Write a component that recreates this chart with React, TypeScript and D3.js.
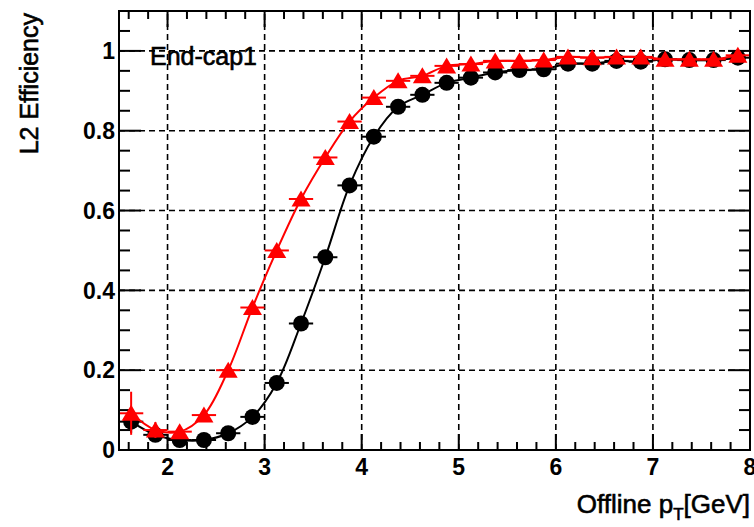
import React from 'react';
import * as d3 from 'd3';

// bin centres of offline pT [GeV]
const ptBins = [
  1.625, 1.875, 2.125, 2.375, 2.625, 2.875, 3.125, 3.375, 3.625, 3.875, 4.125, 4.375, 4.625,
  4.875, 5.125, 5.375, 5.625, 5.875, 6.125, 6.375, 6.625, 6.875, 7.125, 7.375, 7.625, 7.875,
];
const binHalfWidth = 0.125;

// black circles
const effCircle = [
  0.071, 0.038, 0.025, 0.025, 0.042, 0.083, 0.168, 0.317, 0.483, 0.663, 0.785, 0.86, 0.89,
  0.92, 0.933, 0.946, 0.952, 0.954, 0.968, 0.968, 0.975, 0.973, 0.979, 0.977, 0.977, 0.983,
];
const errCircle = [
  0.028, 0.015, 0.01, 0.01, 0.01, 0.01, 0.01, 0.01, 0.01, 0.01, 0.01, 0.01, 0.01,
  0.005, 0.005, 0.005, 0.005, 0.005, 0.005, 0.005, 0.005, 0.005, 0.005, 0.005, 0.005, 0.005,
];

// red triangles
const effTriangle = [
  0.092, 0.05, 0.046, 0.0875, 0.2, 0.357, 0.5, 0.629, 0.733, 0.823, 0.883, 0.925, 0.9375,
  0.9625, 0.967, 0.975, 0.975, 0.977, 0.985, 0.983, 0.985, 0.985, 0.979, 0.979, 0.979, 0.989,
];
const errTriangle = [
  0.054, 0.02, 0.015, 0.015, 0.01, 0.01, 0.01, 0.01, 0.01, 0.01, 0.01, 0.01, 0.01,
  0.005, 0.005, 0.005, 0.005, 0.005, 0.005, 0.005, 0.005, 0.005, 0.005, 0.005, 0.005, 0.005,
];

const xTickLabels = [2, 3, 4, 5, 6, 7, 8];
const yTickLabels = [0, 0.2, 0.4, 0.6, 0.8, 1];

const W = 754;
const H = 527;
const left = 119, right = 750, top = 11, bottom = 450;
const font = "'Liberation Sans', Arial, Helvetica, sans-serif";

const App: React.FC = () => {
  const x = d3.scaleLinear().domain([1.5, 8]).range([left, right]);
  const y = d3.scaleLinear().domain([0, 1.1]).range([bottom, top]);

  const xMinor = d3.range(16, 81, 2).map((v) => v / 10).filter((v) => v > 1.5 && v < 8);
  const yMinor = d3.range(0, 111, 5).map((v) => v / 100).filter((v) => v > 0 && v < 1.1);
  const isMajorX = (v: number) => Math.abs(v - Math.round(v)) < 1e-6;
  const isMajorY = (v: number) => Math.abs(v * 5 - Math.round(v * 5)) < 1e-6;

  const line = d3
    .line<number>()
    .x((_, i) => x(ptBins[i]))
    .y((d) => y(d))
    .curve(d3.curveCatmullRom.alpha(0.5));

  const series = [
    { vals: effCircle, errs: errCircle, color: '#000000', shape: 'circle' },
    { vals: effTriangle, errs: errTriangle, color: '#ff0000', shape: 'triangle' },
  ];

  const triPath = 'M0,-8.5L9.5,7.5L-9.5,7.5Z';

  // titles: regular face with a thin outline, heavier than regular but lighter than bold
  const titleStyle = { fill: '#000', stroke: '#000', strokeWidth: 0.6 };

  return (
    <svg
      width={W}
      height={H}
      style={{ position: 'absolute', left: 0, top: 0, background: '#fff' }}
      fontFamily={font}
    >
      <rect x={0} y={0} width={W} height={H} fill="#fff" />

      {/* grid */}
      <g stroke="#000" strokeWidth={1.6} strokeDasharray="6,4">
        {xTickLabels.filter((v) => v < 8).map((v) => (
          <line key={'gx' + v} x1={x(v)} x2={x(v)} y1={bottom} y2={top} />
        ))}
        {yTickLabels.filter((v) => v > 0).map((v) => (
          <line key={'gy' + v} x1={left} x2={right} y1={y(v)} y2={y(v)} />
        ))}
      </g>

      {/* ticks on all four sides */}
      <g stroke="#000" strokeWidth={2}>
        {xMinor.map((v) => {
          const len = isMajorX(v) ? 16 : 8;
          return (
            <g key={'tx' + v}>
              <line x1={x(v)} x2={x(v)} y1={bottom} y2={bottom - len} />
              <line x1={x(v)} x2={x(v)} y1={top} y2={top + len} />
            </g>
          );
        })}
        {yMinor.map((v) => {
          const len = isMajorY(v) ? 22 : 11;
          return (
            <g key={'ty' + v}>
              <line x1={left} x2={left + len} y1={y(v)} y2={y(v)} />
              <line x1={right} x2={right - len} y1={y(v)} y2={y(v)} />
            </g>
          );
        })}
      </g>

      {/* series */}
      {series.map((s) => (
        <g key={s.shape}>
          <path d={line(s.vals) || ''} fill="none" stroke={s.color} strokeWidth={2} />
          <g stroke={s.color} strokeWidth={2}>
            {s.vals.map((v, i) => (
              <g key={i}>
                <line
                  x1={x(ptBins[i] - binHalfWidth)}
                  x2={x(ptBins[i] + binHalfWidth)}
                  y1={y(v)}
                  y2={y(v)}
                />
                <line x1={x(ptBins[i])} x2={x(ptBins[i])} y1={y(v - s.errs[i])} y2={y(v + s.errs[i])} />
              </g>
            ))}
          </g>
          <g fill={s.color}>
            {s.vals.map((v, i) =>
              s.shape === 'circle' ? (
                <circle key={i} cx={x(ptBins[i])} cy={y(v)} r={8} />
              ) : (
                <path key={i} d={triPath} transform={`translate(${x(ptBins[i])},${y(v)})`} />
              )
            )}
          </g>
        </g>
      ))}

      {/* frame */}
      <rect
        x={left}
        y={top}
        width={right - left}
        height={bottom - top}
        fill="none"
        stroke="#000"
        strokeWidth={2}
      />

      {/* tick labels */}
      <g fontSize={23} fontWeight="bold" fill="#000">
        {xTickLabels.map((v) => (
          <text key={'lx' + v} x={x(v)} y={475} textAnchor="middle">
            {v}
          </text>
        ))}
        {yTickLabels.map((v) => (
          <text key={'ly' + v} x={115} y={y(v)} dy="0.36em" textAnchor="end">
            {v}
          </text>
        ))}
      </g>

      {/* axis titles */}
      <text x={750} y={513} textAnchor="end" fontSize={26} style={titleStyle}>
        Offline p<tspan fontSize={17} dy={7}>T</tspan>
        <tspan dy={-7}>[GeV]</tspan>
      </text>
      <text
        transform="translate(38,13) rotate(-90)"
        textAnchor="end"
        fontSize={25}
        style={titleStyle}
      >
        L2 Efficiency
      </text>

      <text x={150} y={65} fontSize={25} style={titleStyle}>
        End-cap1
      </text>
    </svg>
  );
};

export default App;
